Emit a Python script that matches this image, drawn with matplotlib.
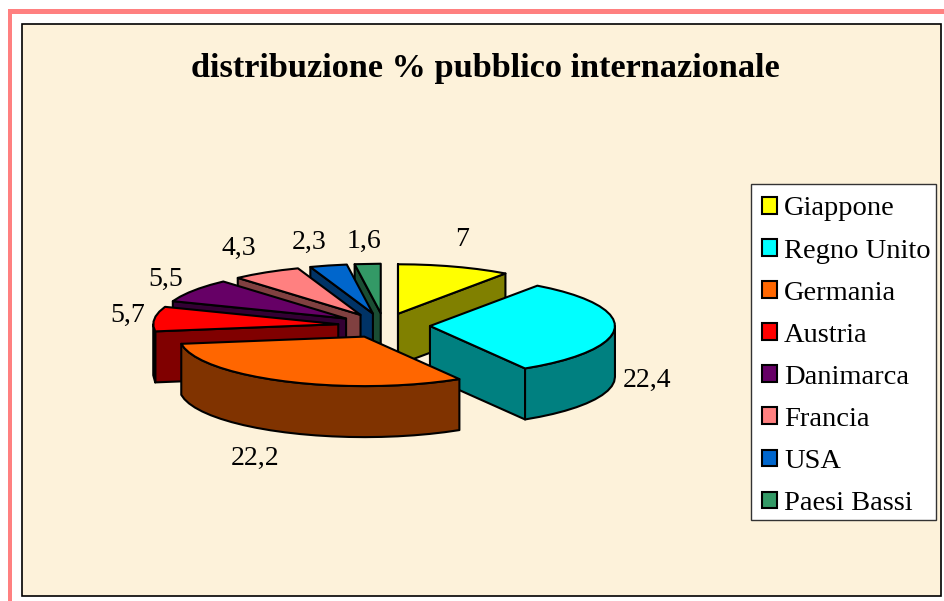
import numpy as np
import matplotlib
matplotlib.use("Agg")
import matplotlib.pyplot as plt
from matplotlib.patches import Polygon, Rectangle, Patch

# ---------- data ----------
categories = ["Giappone", "Regno Unito", "Germania", "Austria",
              "Danimarca", "Francia", "USA", "Paesi Bassi"]
values = [7, 22.4, 22.2, 5.7, 5.5, 4.3, 2.3, 1.6]
title = "distribuzione % pubblico internazionale"

# ---------- style / layout ----------
colors = ["#FFFF00", "#00FFFF", "#FF6600", "#FF0000",
          "#660066", "#FF8080", "#0066CC", "#339966"]
label_xy = [(462, 240), (647, 380), (255, 458), (128, 315),
            (166, 279), (239, 248), (309, 242), (364, 241)]
draw_order = [7, 6, 5, 4, 3, 0, 1, 2]
CX, CY = 384, 325.5    # pie centre, px
RX, RY = 185, 49.5     # top ellipse radii, px
EXPLODE = 46           # explosion along the ellipse, px
DEPTH = 51             # extrusion, px
FONT = "Liberation Serif"
LW = 1.5

fig = plt.figure(figsize=(9.45, 6.01), dpi=100, facecolor="white")
ax = fig.add_axes([0, 0, 1, 1])
ax.set_xlim(0, 945)
ax.set_ylim(601, 0)
ax.axis("off")

# page decoration
ax.add_patch(Rectangle((8, 9), 937, 4.5, fc="#FF8080", ec="none", zorder=0))
ax.add_patch(Rectangle((7.5, 9), 4.5, 592, fc="#FF8080", ec="none", zorder=0))
ax.add_patch(Rectangle((22, 24), 919, 572, fc="#FDF2DA", ec="black", lw=1.2, zorder=1))


def pt(apex, deg):
    a = np.radians(deg)
    return apex[0] + RX * np.sin(a), apex[1] - RY * np.cos(a)


def arc(apex, a0, a1):
    n = max(2, int(abs(a1 - a0) / 5) + 1)
    return [pt(apex, d) for d in np.linspace(a0, a1, n)]


def shade(hexcol):
    return tuple(np.array(matplotlib.colors.to_rgb(hexcol)) * 0.5)


def down(p):
    return p[0], p[1] + DEPTH


def poly(points, fc, z):
    ax.add_patch(Polygon(points, closed=True, fc=fc, ec="black", lw=LW,
                         joinstyle="round", zorder=z))


total = sum(values)
spans = []
acc = 0.0
for v in values:
    spans.append((acc / total * 360, (acc + v) / total * 360))
    acc += v

z = 2
for i in draw_order:
    a0, a1 = spans[i]
    mid = np.radians((a0 + a1) / 2)
    apex = (CX + EXPLODE * np.sin(mid), CY - EXPLODE * RY / RX * np.cos(mid))
    dark = shade(colors[i])
    for ang, visible in ((a0, np.sin(np.radians(a0)) <= 0.001),
                         (a1, np.sin(np.radians(a1)) > 0)):
        if visible:
            t = pt(apex, ang)
            poly([apex, t, down(t), down(apex)], dark, z)
            z += 1
    w0, w1 = max(a0, 90), min(a1, 270)
    if w1 > w0:
        top = arc(apex, w0, w1)
        poly(top + [down(p) for p in top[::-1]], dark, z)
        z += 1
    poly([apex] + arc(apex, a0, a1), colors[i], z)
    z += 1

for v, (x, y) in zip(values, label_xy):
    ax.text(x, y, f"{v:g}".replace(".", ","), family=FONT, fontsize=20,
            color="black", ha="center", va="center", zorder=50)

ax.text(485, 68, title, family=FONT, fontsize=24.7, fontweight="bold",
        color="black", ha="center", va="center", zorder=50)

# legend frame sized to the reference, entries from the library's legend
ax.add_patch(Rectangle((751, 184), 185, 336, fc="white", ec="#333333", lw=1.0, zorder=55))
handles = [Patch(fc=c, ec="black", lw=LW) for c in colors]
leg = ax.legend(handles, categories, loc="upper left",
                bbox_to_anchor=(762 / 945, 1 - 196.5 / 601),
                prop={"family": FONT, "size": 20.5}, frameon=False,
                borderaxespad=0, borderpad=0, labelspacing=0.6,
                handlelength=0.53, handleheight=0.53, handletextpad=0.25)
leg.set_zorder(60)

fig.savefig("out.png", dpi=100)
